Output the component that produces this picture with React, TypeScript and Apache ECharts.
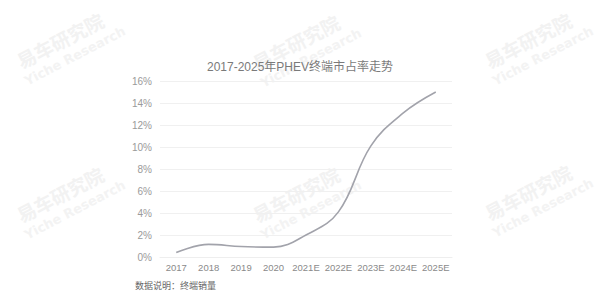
import React, { useEffect, useRef } from "react";
import * as echarts from "echarts";

const years = ["2017", "2018", "2019", "2020", "2021E", "2022E", "2023E", "2024E", "2025E"];
const phevShare = [0.4, 1.15, 0.95, 0.9, 2.0, 4.1, 10.1, 13.1, 15.0];
const yTicks = { min: 0, max: 16, interval: 2 };

const titleText = "2017-2025年PHEV终端市占率走势";
const noteText = "数据说明：终端销量";
const markCn = "易车研究院";
const markEn = "Yiche Research";
const markSpots: [number, number][] = [
  [64, 48], [300, 50], [532, 48],
  [64, 202], [300, 202], [532, 200],
];

const FONT = "'Liberation Sans', Arial, 'Noto Sans CJK SC', sans-serif";

export default function App() {
  const ref = useRef<HTMLDivElement>(null);

  useEffect(() => {
    if (!ref.current) return;
    const chart = echarts.init(ref.current, null, { renderer: "svg" });

    const marks: any[] = [];
    markSpots.forEach(([x, y]) => {
      marks.push({
        type: "group",
        x,
        y,
        rotation: 0.48,
        silent: true,
        z: -10,
        children: [
          {
            type: "text",
            x: 0,
            y: -9,
            style: {
              text: markCn,
              fill: "#f2f2f2",
              font: "bold 19px 'Noto Sans CJK SC', sans-serif",
              textAlign: "center",
              textVerticalAlign: "middle",
            },
          },
          {
            type: "text",
            x: 6,
            y: 12,
            style: {
              text: markEn,
              fill: "#f3f3f3",
              font: "bold 13px 'DejaVu Sans', sans-serif",
              textAlign: "center",
              textVerticalAlign: "middle",
            },
          },
        ],
      });
    });

    chart.setOption({
      animation: false,
      backgroundColor: "#ffffff",
      title: {
        text: titleText,
        left: "center",
        top: 56,
        textStyle: {
          fontSize: 12,
          fontWeight: "normal",
          color: "#7a7a7a",
          fontFamily: FONT,
        },
      },
      grid: { left: 160, right: 148, top: 81, bottom: 38 },
      xAxis: {
        type: "category",
        data: years,
        boundaryGap: true,
        axisLine: { show: true, lineStyle: { color: "#eeeeee", width: 1 } },
        axisTick: { show: false },
        axisLabel: {
          interval: 0,
          color: "#8a8a8a",
          fontSize: 9.5,
          margin: 6,
          fontFamily: FONT,
        },
      },
      yAxis: {
        type: "value",
        min: yTicks.min,
        max: yTicks.max,
        interval: yTicks.interval,
        axisLine: { show: false },
        axisTick: { show: false },
        splitLine: { lineStyle: { color: "#f0f0f0", width: 1 } },
        axisLabel: {
          formatter: "{value}%",
          color: "#9a9a9a",
          fontSize: 10,
          margin: 8,
          fontFamily: FONT,
        },
      },
      series: [
        {
          type: "line",
          data: phevShare,
          smooth: 0.4,
          showSymbol: false,
          lineStyle: { color: "#a2a3ab", width: 1.6 },
          z: 5,
        },
      ],
      graphic: [
        ...marks,
        {
          type: "text",
          left: 135,
          top: 281,
          style: {
            text: noteText,
            fill: "#666666",
            font: "9px 'Noto Sans CJK SC', sans-serif",
          },
        },
      ],
    });

    return () => chart.dispose();
  }, []);

  return (
    <div
      ref={ref}
      style={{ position: "fixed", left: 0, top: 0, width: 600, height: 295 }}
    />
  );
}
